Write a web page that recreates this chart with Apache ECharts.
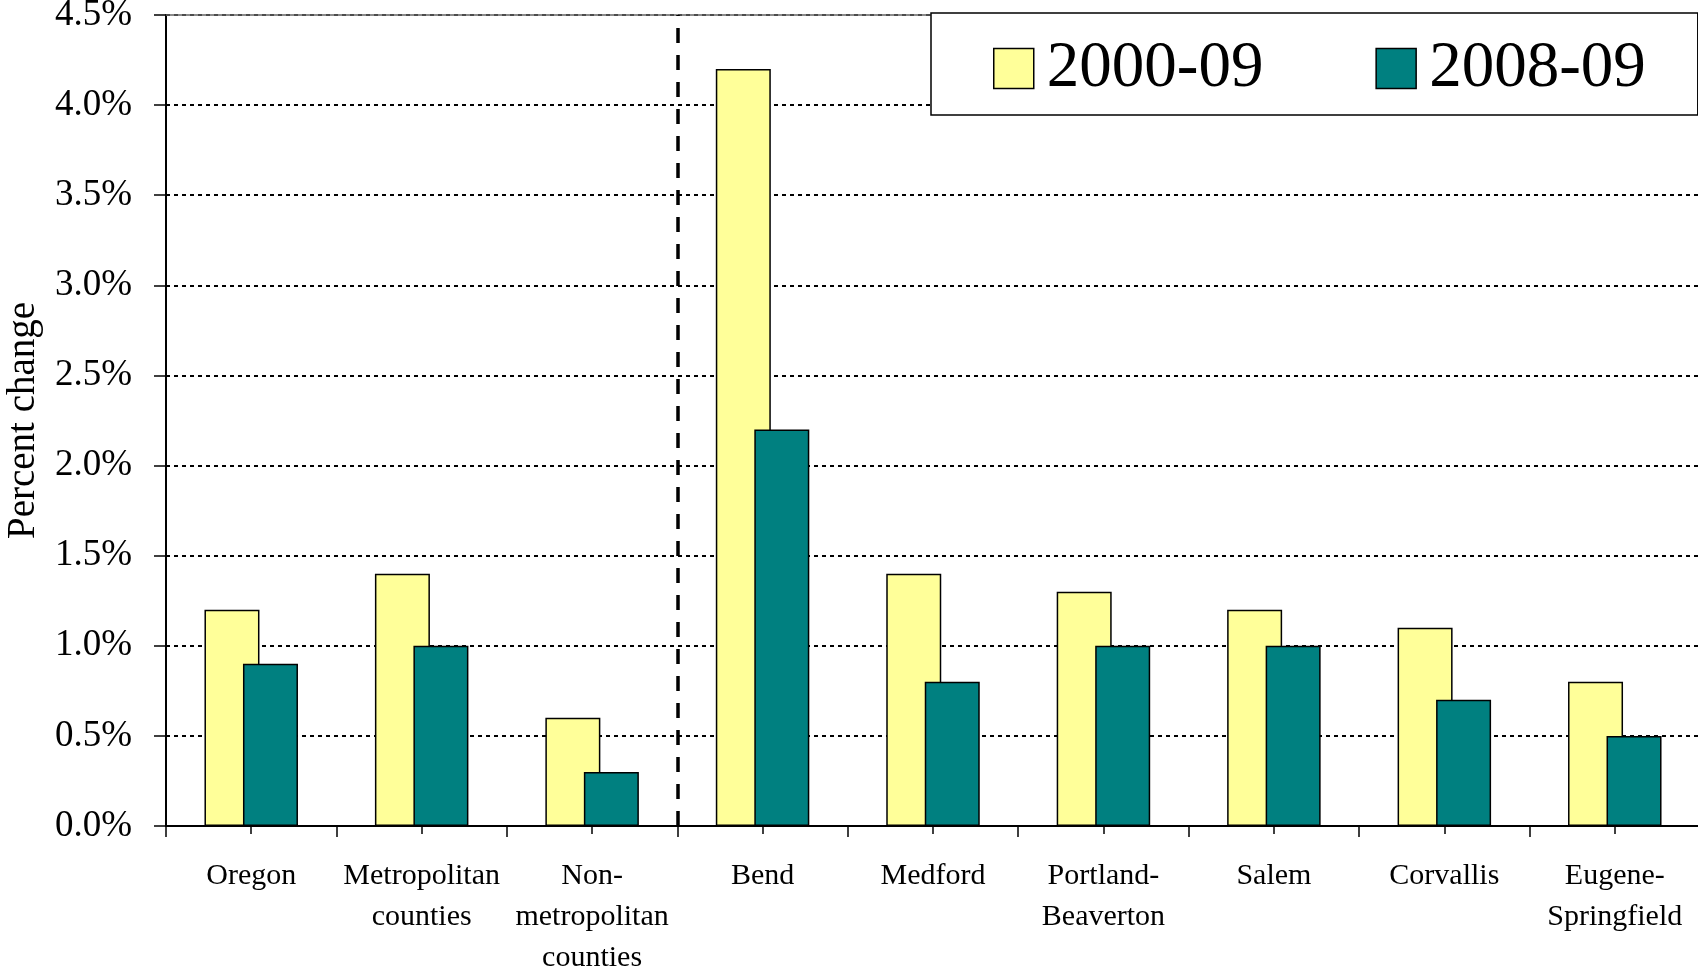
<!DOCTYPE html>
<html>
<head>
<meta charset="utf-8">
<script src="https://cdn.jsdelivr.net/npm/echarts@6/dist/echarts.min.js"></script>
<style>
  html, body { margin: 0; padding: 0; background: #fff; }
  #chart { width: 1698px; height: 972px; }
</style>
</head>
<body>
<div id="chart"></div>
<script>
const categories = ['Oregon', 'Metropolitan\ncounties', 'Non-\nmetropolitan\ncounties', 'Bend', 'Medford', 'Portland-\nBeaverton', 'Salem', 'Corvallis', 'Eugene-\nSpringfield'];
const seriesNames = ['2000-09', '2008-09'];
const values2000_09 = [1.2, 1.4, 0.6, 4.2, 1.4, 1.3, 1.2, 1.1, 0.8];
const values2008_09 = [0.9, 1.0, 0.3, 2.2, 0.8, 1.0, 1.0, 0.7, 0.5];
const dividerAfterIndex = 3; // boundary between state/county group and metro areas

const FONT = 'Liberation Serif';
const chart = echarts.init(document.getElementById('chart'), null, { renderer: 'canvas' });

const hiddenCat = (extra) => Object.assign({
  type: 'category', data: categories, position: 'bottom',
  axisLine: { show: false }, axisLabel: { show: false }, splitLine: { show: false }
}, extra);

chart.setOption({
  animation: false,
  backgroundColor: '#fff',
  grid: { left: 166, right: -2, top: 15, bottom: 146, containLabel: false, outerBoundsMode: 'none' },
  legend: {
    data: seriesNames,
    left: 931, top: 13,
    orient: 'horizontal',
    padding: [23, 52, 14, 62],
    icon: 'rect',
    itemWidth: 40, itemHeight: 40, itemGap: 112,
    backgroundColor: '#fff',
    borderColor: '#000', borderWidth: 1.5,
    itemStyle: { borderColor: '#000', borderWidth: 1.5 },
    textStyle: { fontFamily: FONT, fontSize: 65, color: '#000', padding: [0, 0, 0, 8] }
  },
  xAxis: [
    {
      type: 'category', data: categories, position: 'bottom',
      axisLine: { lineStyle: { color: '#000', width: 2 } },
      axisTick: { show: true, alignWithLabel: false, length: 11, lineStyle: { color: '#000', width: 1.5 } },
      axisLabel: { fontFamily: FONT, fontSize: 30, color: '#000', lineHeight: 41, margin: 30, interval: 0 },
      splitLine: { show: false }
    },
    hiddenCat({ axisTick: { show: true, alignWithLabel: true, inside: true, length: 8, lineStyle: { color: '#000', width: 1.5 } } }),
    hiddenCat({ axisTick: { show: true, alignWithLabel: true, inside: false, length: 8, lineStyle: { color: '#000', width: 1.5 } } }),
    hiddenCat({ position: 'top', axisLine: { show: true, lineStyle: { color: '#666', width: 1.5 } }, axisTick: { show: false } }),
    { type: 'value', min: 0, max: categories.length, show: false }
  ],
  yAxis: {
    type: 'value', min: 0, max: 4.5, interval: 0.5,
    name: 'Percent change', nameLocation: 'middle', nameGap: 123,
    nameTextStyle: { fontFamily: FONT, fontSize: 39, color: '#000' },
    axisLine: { show: true, lineStyle: { color: '#000', width: 2 } },
    axisTick: { show: true, length: 12, lineStyle: { color: '#000', width: 1.5 } },
    axisLabel: { fontFamily: FONT, fontSize: 37, color: '#000', margin: 34, formatter: v => v.toFixed(1) + '%' },
    splitLine: { show: true, lineStyle: { color: '#000', width: 2, type: [4, 4] } }
  },
  series: [
    {
      name: seriesNames[0], type: 'bar', data: values2000_09, xAxisIndex: 0,
      barWidth: 55, barGap: '-30%',
      itemStyle: { color: '#FFFF99', borderColor: '#000', borderWidth: 1.5 }
    },
    {
      name: seriesNames[1], type: 'bar', data: values2008_09, xAxisIndex: 0,
      barWidth: 55, barGap: '-30%',
      itemStyle: { color: '#008080', borderColor: '#000', borderWidth: 1.5 }
    },
    {
      type: 'line', xAxisIndex: 4, data: [], symbol: 'none', silent: true,
      markLine: {
        silent: true, symbol: 'none', label: { show: false },
        lineStyle: { color: '#000', width: 3.5, type: [15, 12] },
        data: [{ xAxis: dividerAfterIndex }]
      }
    }
  ]
});
</script>
</body>
</html>
